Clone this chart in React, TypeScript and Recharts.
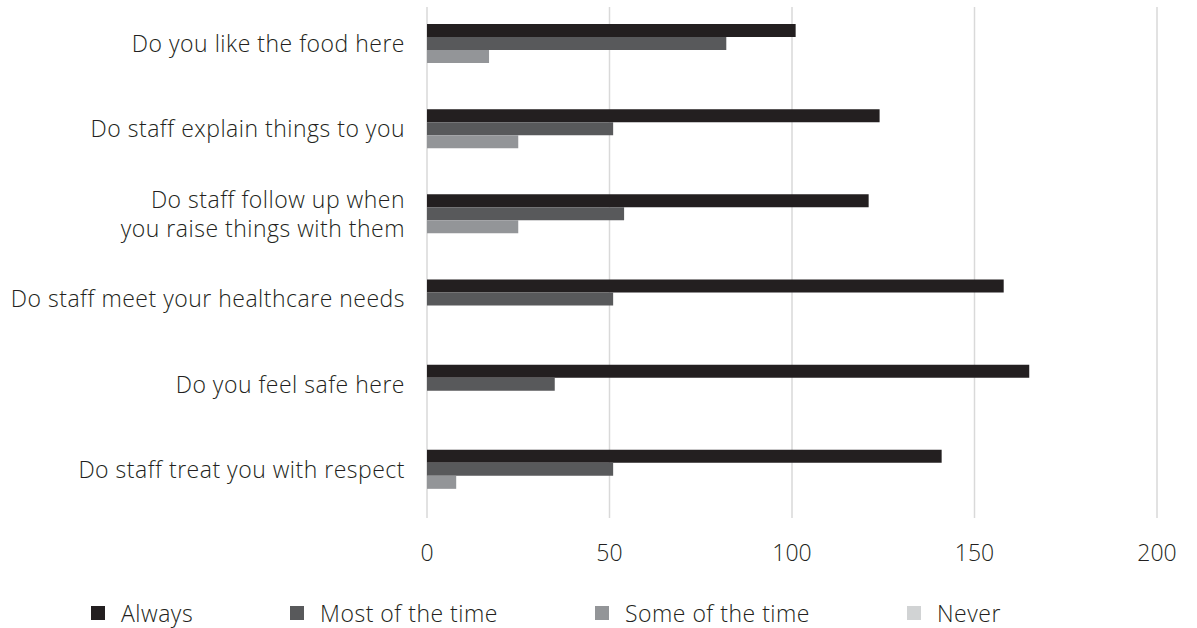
import { BarChart, Bar, XAxis, YAxis, CartesianGrid, Legend } from 'recharts';

const questions = [
  'Do you like the food here',
  'Do staff explain things to you',
  'Do staff follow up when|you raise things with them',
  'Do staff meet your healthcare needs',
  'Do you feel safe here',
  'Do staff treat you with respect',
];

const always = [101, 124, 121, 158, 165, 141];
const mostOfTheTime = [82, 51, 54, 51, 35, 51];
const someOfTheTime = [17, 25, 25, 0, 0, 8];
const never = [0, 0, 0, 0, 0, 0];

const xTicks = [0, 50, 100, 150, 200];

const series = [
  { key: 'always', name: 'Always', color: '#231f20' },
  { key: 'most', name: 'Most of the time', color: '#58595b' },
  { key: 'some', name: 'Some of the time', color: '#939598' },
  { key: 'never', name: 'Never', color: '#d1d3d4' },
];

const data = questions.map((q, i) => ({
  question: q,
  always: always[i],
  most: mostOfTheTime[i],
  some: someOfTheTime[i],
  never: never[i],
}));

const FONT = '"Open Sans", sans-serif';
const TEXT = '#231f20';

function QuestionTick({ x, y, payload }: any) {
  const lines = String(payload.value).split('|');
  const lineHeight = 29;
  const startY = y - 6 - ((lines.length - 1) * lineHeight) / 2;
  return (
    <text x={x} y={startY} textAnchor="end" fontFamily={FONT} fontSize={23} fontWeight={300} letterSpacing={0.5} fill={TEXT}>
      {lines.map((line, i) => (
        <tspan key={i} x={x} dy={i === 0 ? '0.36em' : lineHeight}>
          {line}
        </tspan>
      ))}
    </text>
  );
}

// legend drawn from the series list so the order stays as in the chart
function BottomLegend() {
  return (
    <div style={{ display: 'flex', alignItems: 'center', paddingLeft: 91, paddingTop: 10, height: 30, fontFamily: FONT, fontSize: 23, fontWeight: 300, letterSpacing: 0.5, color: TEXT }}>
      {series.map((s) => (
        <div key={s.key} style={{ display: 'flex', alignItems: 'center', marginRight: 97 }}>
          <span style={{ width: 14, height: 14, background: s.color, display: 'inline-block', marginRight: 16 }} />
          <span>{s.name}</span>
        </div>
      ))}
    </div>
  );
}

export default function App() {
  return (
    <div style={{ position: 'absolute', top: 0, left: 0, background: '#fff' }}>
      <BarChart
        width={1197}
        height={628}
        data={data}
        layout="vertical"
        barGap={0}
        barSize={13}
        margin={{ top: 7, right: 40, bottom: 0, left: 0 }}
      >
        <CartesianGrid horizontal={false} stroke="#d9d9d9" strokeWidth={1.5} />
        <XAxis
          type="number"
          domain={[0, 200]}
          ticks={xTicks}
          height={70}
          axisLine={false}
          tickLine={false}
          tickSize={0}
          tickMargin={27}
          tick={{ fontFamily: FONT, fontSize: 23, fontWeight: 300, fill: TEXT }}
        />
        <YAxis
          type="category"
          dataKey="question"
          width={427}
          axisLine={false}
          tickLine={false}
          tickSize={0}
          tickMargin={22}
          tick={<QuestionTick />}
          interval={0}
        />
        <Legend verticalAlign="bottom" height={40} content={<BottomLegend />} wrapperStyle={{ left: 0, width: 1197, bottom: 0 }} />
        {series.map((s) => (
          <Bar key={s.key} dataKey={s.key} name={s.name} fill={s.color} isAnimationActive={false} />
        ))}
      </BarChart>
    </div>
  );
}
